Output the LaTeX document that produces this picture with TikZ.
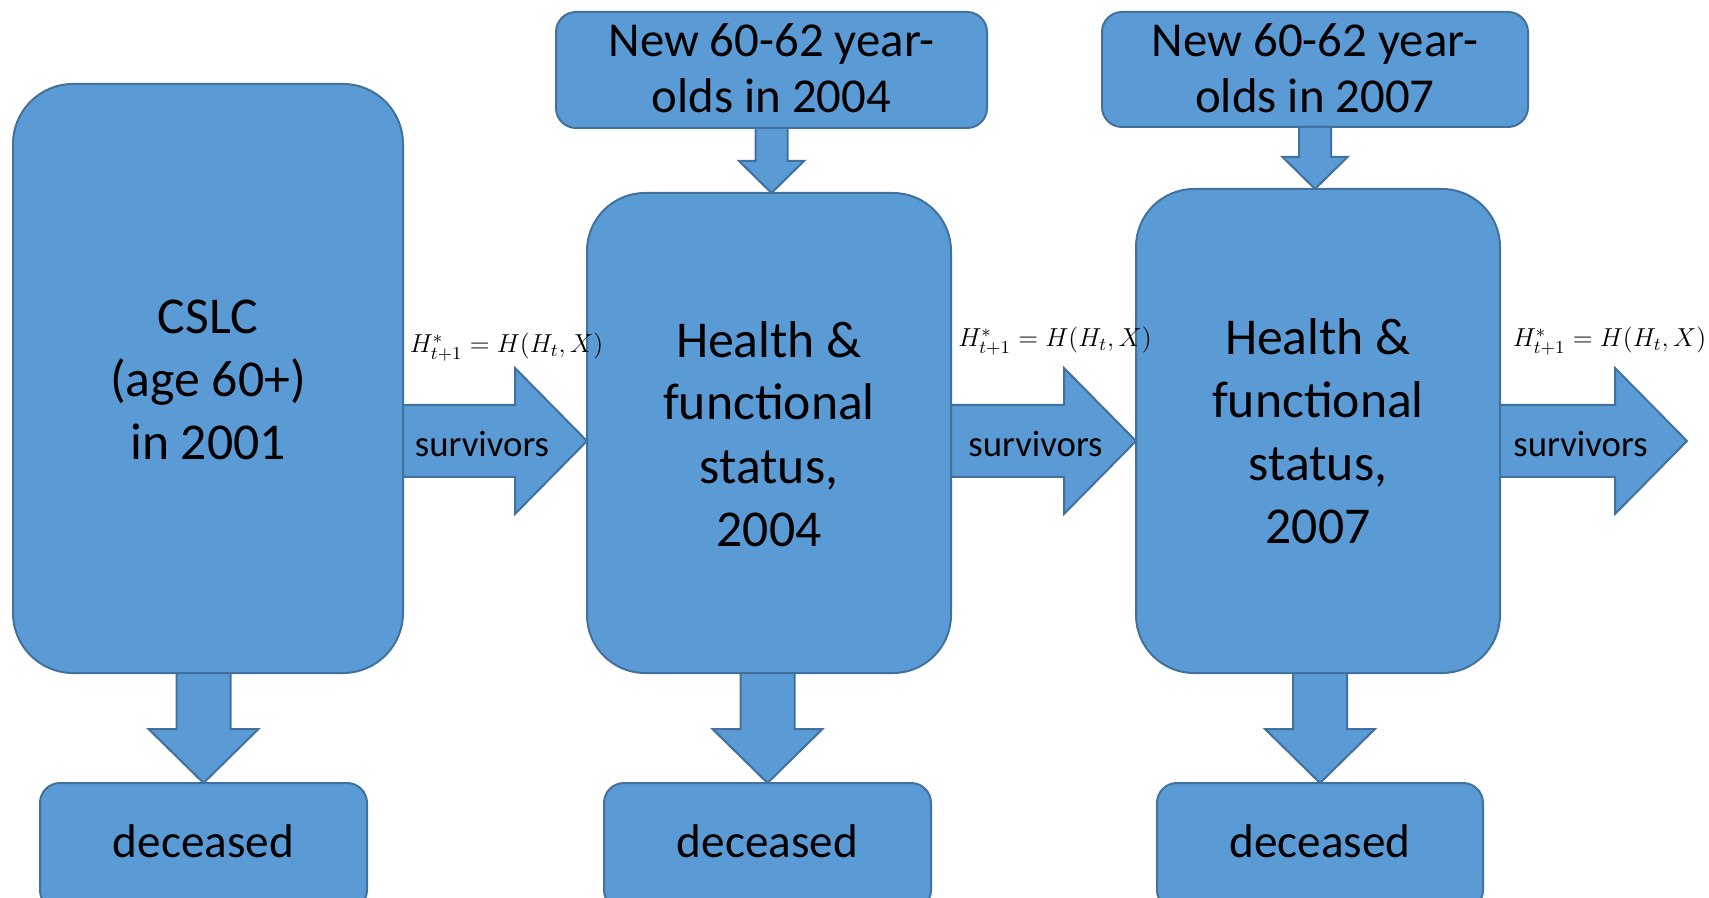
\RequirePackage{fix-cm}
\documentclass[tikz,border=0pt]{standalone}
\usepackage{fontspec}
\setmainfont{Carlito}
\usetikzlibrary{calc}
\definecolor{fillc}{HTML}{5B9BD5}
\definecolor{bordc}{HTML}{41719C}
\newcommand\fbig{\fontsize{25.85pt}{31.5pt}\selectfont}
\newcommand\fnew{\fontsize{24.4pt}{28pt}\selectfont}
\newcommand\fdec{\fontsize{23.6pt}{28pt}\selectfont}
\newcommand\fsurv{\fontsize{18.4pt}{22pt}\selectfont}
\newcommand\fmath{\fontsize{13pt}{15pt}\selectfont}
\tikzset{
  box/.style={draw=bordc, fill=fillc, line width=1pt, outer sep=0pt, inner sep=0pt},
  blk/.style={draw=bordc, fill=fillc, line width=1pt},
  txt/.style={anchor=base, inner sep=0pt, outer sep=0pt, align=center, text=black},
}
% right block arrow: from node, to node, y (px)
\newcommand\rarr[3]{%
  \draw[blk] let \p1=(#1.east), \p2=(#2.west), \p3=(0,#3) in
    (\x1,\y3+18pt) -- (\x2-36pt,\y3+18pt) -- (\x2-36pt,\y3+36.5pt) -- (\x2,\y3)
    -- (\x2-36pt,\y3-36.5pt) -- (\x2-36pt,\y3-18pt) -- (\x1,\y3-18pt) -- cycle;}
% down block arrow: from node, to node, node giving x, shaft half, head half, head length
\newcommand\darr[6]{%
  \draw[blk] let \p1=(#1.south), \p2=(#2.north), \p3=(#3.center) in
    (\x3-#4,\y1) -- (\x3-#4,\y2+#6) -- (\x3-#5,\y2+#6) -- (\x3,\y2)
    -- (\x3+#5,\y2+#6) -- (\x3+#4,\y2+#6) -- (\x3+#4,\y1) -- cycle;}
\begin{document}
\begin{tikzpicture}[x=0.5pt,y=-0.5pt]
\useasboundingbox (0,0) rectangle (1709,898);
% boxes
\node[box, rounded corners=30pt, minimum width=195pt, minimum height=294.5pt] (cslc) at (208,378.5) {};
\node[box, rounded corners=29pt, minimum width=182pt, minimum height=240pt] (h04) at (769,433) {};
\node[box, rounded corners=29pt, minimum width=182pt, minimum height=242pt] (h07) at (1318,431) {};
\node[box, rounded corners=10pt, minimum width=215.5pt, minimum height=58pt] (n04) at (771.5,70) {};
\node[box, rounded corners=10pt, minimum width=213pt, minimum height=57.5pt] (n07) at (1315,69.5) {};
\node[box, rounded corners=10pt, minimum width=163.5pt, minimum height=63.5pt] (d1) at (203.5,846.5) {};
\node[box, rounded corners=10pt, minimum width=163.5pt, minimum height=63.5pt] (d2) at (767.5,846.5) {};
\node[box, rounded corners=10pt, minimum width=163pt, minimum height=63.5pt] (d3) at (1320,846.5) {};
\node[inner sep=0pt, outer sep=0pt, minimum size=0pt] (endn) at (1687,441) {};
% arrows
\rarr{cslc}{h04}{441}
\rarr{h04}{h07}{441}
\rarr{h07}{endn}{441}
\darr{cslc}{d1}{d1}{13.5pt}{27.5pt}{27pt}
\darr{h04}{d2}{d2}{13.5pt}{27.5pt}{27pt}
\darr{h07}{d3}{d3}{13.5pt}{27.5pt}{27pt}
\darr{n04}{h04}{n04}{8pt}{16.25pt}{16pt}
\darr{n07}{h07}{n07}{8pt}{16.25pt}{16pt}
% texts (base anchor = baseline of last line)
\node[txt, font=\fbig] (cslct) at (208,459.5) {CSLC\\(age 60+)\\in 2001};
\node[txt, font=\fbig] (h04t) at (769,546) {Health \&\\functional\\status,\\2004};
\node[txt, font=\fbig] (h07t) at (1318,544) {Health \&\\functional\\status,\\2007};
\node[txt, font=\fnew] (n04t) at (771.5,113) {New 60-62 year-\\olds in 2004};
\node[txt, font=\fnew] (n07t) at (1315,113) {New 60-62 year-\\olds in 2007};
\node[txt, font=\fdec] (d1t) at (203.5,857) {deceased};
\node[txt, font=\fdec] (d2t) at (767.5,857) {deceased};
\node[txt, font=\fdec] (d3t) at (1320,857) {deceased};
\node[txt, font=\fsurv] (s1) at (482,457) {survivors};
\node[txt, font=\fsurv] (s2) at (1035.5,457) {survivors};
\node[txt, font=\fsurv] (s3) at (1580.5,457) {survivors};
\node[txt, font=\fmath] (l1) at (506.5,353) {$H^*_{t+1}=H(H_t,X)$};
\node[txt, font=\fmath] (l2) at (1055,347) {$H^*_{t+1}=H(H_t,X)$};
\node[txt, font=\fmath] (l3) at (1609.5,347) {$H^*_{t+1}=H(H_t,X)$};
\end{tikzpicture}
\end{document}
